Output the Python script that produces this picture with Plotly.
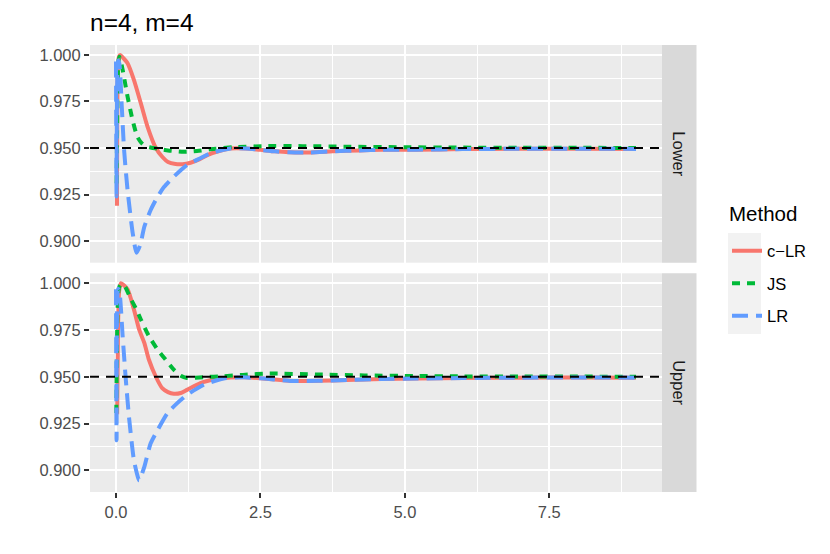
import plotly.graph_objects as go
from plotly.subplots import make_subplots

# ---------------- data ----------------
panels = ["Lower", "Upper"]
methods = ["c−LR", "JS", "LR"]
colors = ["#F8766D", "#00BA38", "#619CFF"]
target = 0.95
legend_title = "Method"

# Lower panel
clr_low_x = [0.017, 0.03, 0.05, 0.074, 0.12, 0.2, 0.31, 0.43, 0.545, 0.69, 0.8, 0.9, 1.03, 1.15, 1.29,
             1.45, 1.58, 1.8, 1.98, 2.25, 2.5, 2.75, 3.0, 3.35, 3.75, 4.2, 4.6, 5.2, 6.0, 7.0, 8.0, 9.0]
clr_low_y = [0.919, 0.990, 0.999, 1.000, 0.9985, 0.9955, 0.9866, 0.974, 0.9615, 0.950, 0.9453, 0.9425,
             0.9414, 0.9413, 0.9421, 0.9440, 0.9462, 0.9485, 0.9497, 0.9497, 0.9490, 0.9482, 0.9477,
             0.9476, 0.9482, 0.9487, 0.9490, 0.9491, 0.9494, 0.9496, 0.9496, 0.9495]
js_low_x = [0.01, 0.025, 0.04, 0.057, 0.08, 0.115, 0.2, 0.287, 0.37, 0.44, 0.515, 0.6, 0.72, 0.9, 1.17,
            1.4, 1.63, 2.03, 2.54, 3.23, 4.0, 5.0, 6.0, 7.0, 8.0, 9.0]
js_low_y = [0.931, 0.975, 0.996, 0.999, 0.997, 0.992, 0.9776, 0.965, 0.956, 0.9528, 0.951, 0.9503,
            0.9496, 0.9487, 0.948, 0.9484, 0.9493, 0.9504, 0.951, 0.951, 0.9507, 0.9504, 0.9502,
            0.9501, 0.9501, 0.950]
lr_low_x = [0.0, 0.01, 0.035, 0.057, 0.1, 0.14, 0.2, 0.29, 0.355, 0.42, 0.49, 0.6, 0.72, 0.83, 1.0,
            1.23, 1.46, 1.63, 1.98, 2.25, 2.5, 2.75, 3.0, 3.35, 3.75, 4.2, 4.6, 5.2, 6.0, 7.0, 8.0, 9.0]
lr_low_y = [0.9964, 0.924, 0.997, 0.9955, 0.9722, 0.949, 0.9274, 0.9041, 0.8937, 0.898, 0.9077,
            0.9167, 0.9238, 0.929, 0.9346, 0.9409, 0.9445, 0.9471, 0.9497, 0.9497, 0.9490, 0.9482,
            0.9477, 0.9476, 0.9482, 0.9487, 0.9490, 0.9491, 0.9494, 0.9496, 0.9496, 0.9495]

# Upper panel
clr_up_x = [0.02, 0.035, 0.055, 0.086, 0.2, 0.31, 0.4, 0.49, 0.57, 0.69, 0.8, 0.9, 1.0, 1.12, 1.23,
            1.46, 1.7, 1.98, 2.25, 2.5, 2.8, 3.1, 3.5, 4.0, 4.6, 5.2, 6.0, 7.0, 8.0, 9.0]
clr_up_y = [0.93, 0.975, 0.996, 1.000, 0.9968, 0.986, 0.9753, 0.9681, 0.9591, 0.950, 0.9439, 0.9418,
            0.9409, 0.9413, 0.943, 0.9466, 0.9485, 0.9496, 0.9497, 0.9492, 0.9484, 0.9477, 0.9478,
            0.9483, 0.9488, 0.9490, 0.9493, 0.9495, 0.9496, 0.9495]
js_up_x = [0.005, 0.02, 0.04, 0.07, 0.11, 0.16, 0.26, 0.35, 0.43, 0.57, 0.72, 0.86, 1.0, 1.12, 1.23,
           1.52, 1.86, 2.2, 2.66, 3.5, 4.3, 5.2, 6.0, 7.0, 8.0, 9.0]
js_up_y = [0.9306, 0.975, 0.995, 0.999, 0.9995, 0.998, 0.9914, 0.9862, 0.9806, 0.9717, 0.9645,
           0.9591, 0.9538, 0.9505, 0.9493, 0.9498, 0.9503, 0.951, 0.9517, 0.9512, 0.9507, 0.9504,
           0.9502, 0.9501, 0.9501, 0.950]
lr_up_x = [0.0, 0.01, 0.035, 0.057, 0.115, 0.17, 0.23, 0.31, 0.37, 0.4, 0.49, 0.6, 0.72, 0.89, 1.06,
           1.23, 1.52, 1.86, 2.2, 2.5, 2.8, 3.1, 3.5, 4.0, 4.6, 5.2, 6.0, 7.0, 8.0, 9.0]
lr_up_y = [0.9968, 0.916, 0.997, 0.996, 0.9717, 0.9484, 0.9269, 0.9054, 0.8973, 0.8946, 0.9018,
           0.9144, 0.9215, 0.9305, 0.9359, 0.9403, 0.9457, 0.9491, 0.9497, 0.9492, 0.9484, 0.9477,
           0.9478, 0.9483, 0.9488, 0.9490, 0.9493, 0.9495, 0.9496, 0.9495]

x_ticks = [0.0, 2.5, 5.0, 7.5]
y_ticks = [0.900, 0.925, 0.950, 0.975, 1.000]
title_text = "n=4, m=4"

# ---------------- figure ----------------
FONT = "Liberation Sans, Arial, Helvetica, sans-serif"
OFF = 8  # page body margin of the html output
W, H = 830, 554
ML = 90 - OFF
MT = 44.7 - OFF
PR = 662 - OFF
PB = 492.3 - OFF
MR = W - PR
MB = H - PB
PW, PH = PR - ML, PB - MT

def py2paper(py):
    return (PB - (py - OFF)) / PH

def px2paper(px):
    return ((px - OFF) - ML) / PW

dom_top = [py2paper(262.7), 1.0]
dom_bot = [0.0, py2paper(273.3)]

fig = make_subplots(rows=2, cols=1, shared_xaxes=True)

series = {
    1: [(clr_low_x, clr_low_y), (js_low_x, js_low_y), (lr_low_x, lr_low_y)],
    2: [(clr_up_x, clr_up_y), (js_up_x, js_up_y), (lr_up_x, lr_up_y)],
}
dashes = ["solid", "8px,7px", "16px,8px"]
for row in (1, 2):
    for i, (xs, ys) in enumerate(series[row]):
        fig.add_trace(go.Scatter(
            x=xs, y=ys, mode="lines", name=methods[i],
            legendgroup=methods[i], showlegend=(row == 1),
            line=dict(color=colors[i], width=4, dash=dashes[i], shape="spline", smoothing=0.6),
            hoverinfo="skip"), row=row, col=1)

# axis ranges (ggplot-style 5% expansion)
all_x = clr_low_x + js_low_x + lr_low_x + clr_up_x + js_up_x + lr_up_x
all_y = clr_low_y + js_low_y + lr_low_y + clr_up_y + js_up_y + lr_up_y + [target]
xr = [min(all_x), max(all_x)]
yr = [min(all_y), max(all_y)]
xpad = (xr[1] - xr[0]) * 0.05
ypad = (yr[1] - yr[0]) * 0.05
xrange = [xr[0] - xpad, xr[1] + xpad]
yrange = [yr[0] - ypad, yr[1] + ypad]

tickfont = dict(family=FONT, size=16.5, color="#4D4D4D")
common_x = dict(range=xrange, tickvals=x_ticks, ticktext=[f"{v:.1f}" for v in x_ticks],
                showgrid=True, gridcolor="white", gridwidth=2, zeroline=False, showline=False,
                minor=dict(showgrid=True, gridcolor="white", gridwidth=1, tick0=1.25, dtick=2.5),
                tickfont=tickfont)
common_y = dict(range=yrange, tickvals=y_ticks, ticktext=[f"{v:.3f}" for v in y_ticks],
                showgrid=True, gridcolor="white", gridwidth=2, zeroline=False, showline=False,
                minor=dict(showgrid=True, gridcolor="white", gridwidth=1, tick0=0.9125, dtick=0.025),
                ticks="outside", ticklen=5, tickwidth=2, tickcolor="#333333",
                tickfont=tickfont)

fig.update_layout(
    xaxis=dict(common_x, domain=[0, 1], showticklabels=False, ticks=""),
    xaxis2=dict(common_x, domain=[0, 1], ticks="outside", ticklen=5, tickwidth=2, tickcolor="#333333"),
    yaxis=dict(common_y, domain=dom_top),
    yaxis2=dict(common_y, domain=dom_bot),
)

# target reference lines
for yref in ("y", "y2"):
    fig.add_shape(type="line", xref=yref.replace("y", "x") + " domain", yref=yref,
                  x0=0, x1=1, y0=target, y1=target, layer="above",
                  line=dict(color="black", width=2, dash="9px,7px"))

# facet strips
strip_x1 = px2paper(696.5)
for dom, lab in zip([dom_top, dom_bot], panels):
    fig.add_shape(type="rect", xref="paper", yref="paper", x0=1.0, x1=strip_x1,
                  y0=dom[0], y1=dom[1], fillcolor="#D9D9D9", line=dict(width=0), layer="below")
    fig.add_annotation(xref="paper", yref="paper", x=px2paper(679.5), y=(dom[0] + dom[1]) / 2,
                       xanchor="center", yanchor="middle",
                       text=lab, textangle=90, showarrow=False,
                       font=dict(family=FONT, size=16.5, color="#1A1A1A"))

# legend key background and legend title
fig.add_shape(type="rect", xref="paper", yref="paper",
              x0=px2paper(728), x1=px2paper(761), y0=py2paper(334), y1=py2paper(233),
              fillcolor="#F2F2F2", line=dict(width=0), layer="below")
fig.add_annotation(xref="paper", yref="paper", x=px2paper(727), y=py2paper(213),
                   xanchor="left", yanchor="middle", text=legend_title, showarrow=False,
                   font=dict(family=FONT, size=20.5, color="black"))

fig.update_layout(
    width=W, height=H,
    margin=dict(l=ML, r=MR, t=MT, b=MB),
    paper_bgcolor="white", plot_bgcolor="#EBEBEB",
    title=dict(text=title_text, x=ML / W, xanchor="left", y=1 - (22 - OFF) / H, yanchor="middle",
               font=dict(family=FONT, size=24.5, color="black")),
    legend=dict(x=px2paper(727), xanchor="left", y=py2paper(233.5), yanchor="top",
                font=dict(family=FONT, size=16.5, color="black"),
                bgcolor="rgba(0,0,0,0)", tracegroupgap=8, itemwidth=30),
    showlegend=True,
)

fig.write_html("out.html")
